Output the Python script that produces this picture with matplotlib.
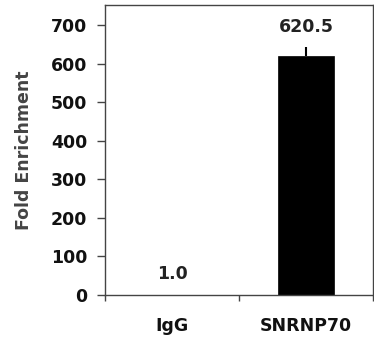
import matplotlib

matplotlib.use("Agg")
import matplotlib.pyplot as plt
import numpy as np

categories = ["IgG", "SNRNP70"]
values = [1.0, 620.5]
errors = [0.0, 22.0]
value_labels = ["1.0", "620.5"]
y_ticks = [0, 100, 200, 300, 400, 500, 600, 700]

plt.rcParams["font.family"] = ["DejaVu Sans"]
plt.rcParams["font.weight"] = "bold"

fig = plt.figure(figsize=(3.74, 3.39), dpi=100)
ax = fig.add_axes([0.281, 0.13, 0.716, 0.855])

x = np.arange(len(categories)) + 0.5
ax.bar(x, values, width=0.42, color="black", edgecolor="black", linewidth=0.5)
ax.errorbar(x[1:], values[1:], yerr=[[0], errors[1:]], fmt="none", ecolor="black",
            elinewidth=1.5, capsize=0)

# value labels sit just above each bar (or its error bar)
for xi, v, e, lab in zip(x, values, errors, value_labels):
    ax.annotate(lab, (xi, v + e), xytext=(0, 8), textcoords="offset points",
                ha="center", va="bottom", fontsize=12.5, fontweight="bold", color="#222222")

ax.set_xlim(0, 2)
ax.set_ylim(0, 752)
ax.set_yticks(y_ticks)
ax.set_xticks([0, 1, 2])
ax.set_xticklabels([])
ax.set_xticks(x, minor=True)
ax.set_xticklabels(categories, minor=True)
ax.tick_params(axis="x", which="minor", length=0, pad=16, labelsize=12.5)
ax.tick_params(axis="x", which="major", direction="out", length=4, width=1, color="#444444")
ax.tick_params(axis="y", direction="out", length=6, width=1, color="#444444",
               labelsize=12.5, pad=7)
for lab in ax.get_xticklabels(minor=True) + ax.get_yticklabels():
    lab.set_fontweight("bold")
    lab.set_color("#111111")

for sp in ax.spines.values():
    sp.set_color("#444444")
    sp.set_linewidth(1)

ax.set_ylabel("Fold Enrichment", fontsize=12.5, fontweight="bold", color="#444444", labelpad=13)

fig.savefig("out.png", dpi=100)
